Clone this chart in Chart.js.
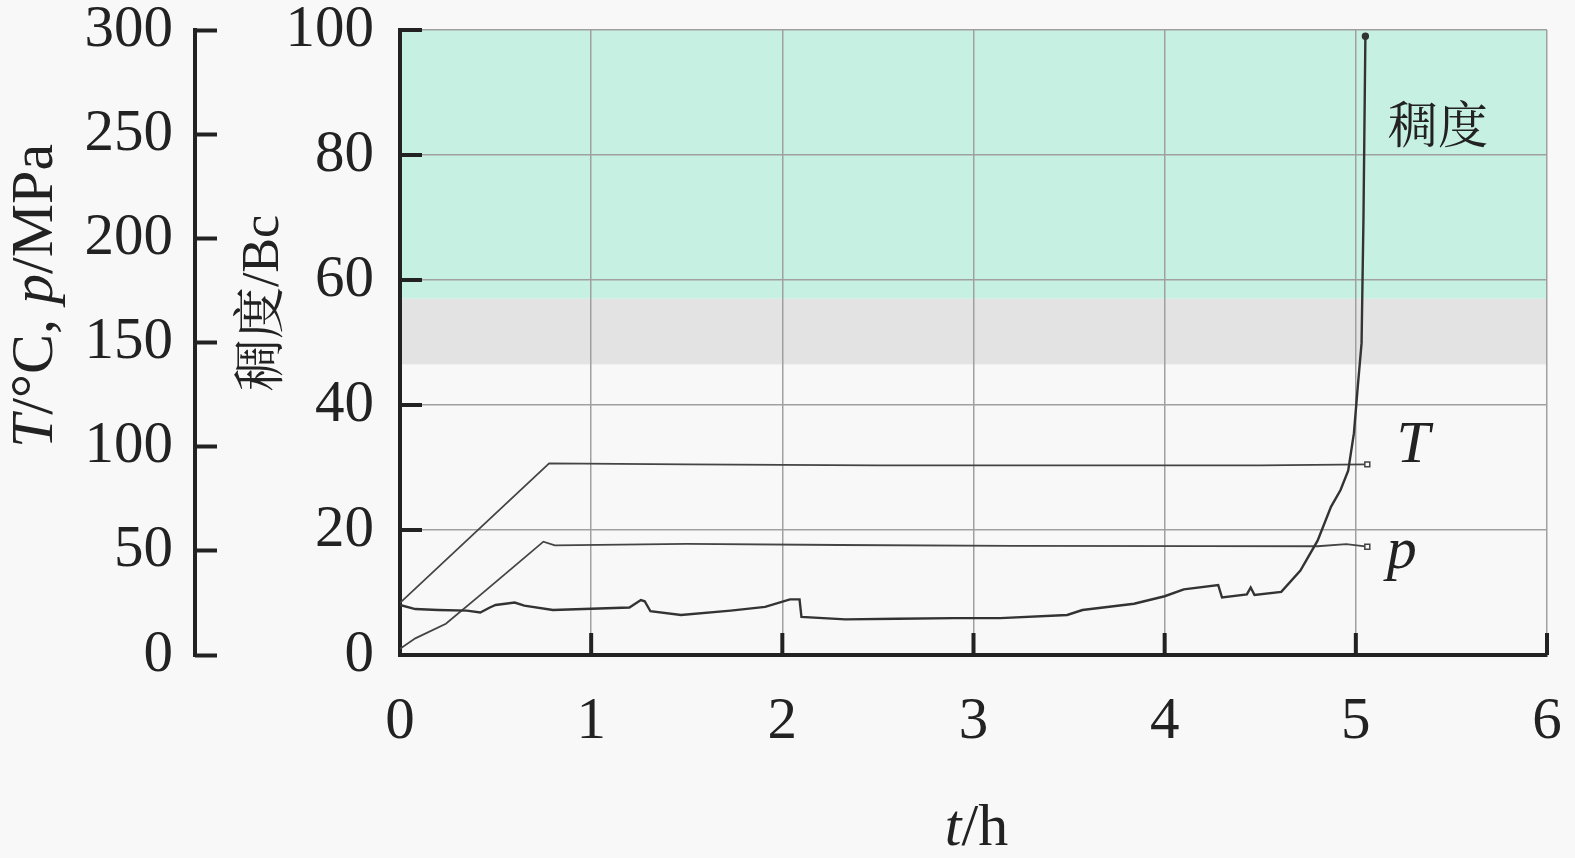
<!DOCTYPE html>
<html>
<head>
<meta charset="utf-8">
<script src="https://cdn.jsdelivr.net/npm/chart.js@4.4.1/dist/chart.umd.min.js"></script>
<style>
  html, body { margin: 0; padding: 0; background: #f8f8f8; }
  canvas { display: block; }
</style>
</head>
<body>
<canvas id="chart" width="1575" height="858"></canvas>
<script>
// consistency (Bc) against time (h)
const consTime = [0, 0.08, 0.2, 0.35, 0.42, 0.47, 0.5, 0.6, 0.65, 0.8, 1.0, 1.2, 1.26, 1.28, 1.31, 1.47, 1.73, 1.91, 2.04, 2.09, 2.1, 2.33, 2.6, 2.9, 3.14, 3.49, 3.57, 3.84, 4.0, 4.1, 4.28, 4.3, 4.43, 4.45, 4.47, 4.61, 4.71, 4.8, 4.87, 4.92, 4.96, 4.99, 5.01, 5.03, 5.04, 5.05];
const consBc = [8, 7.35, 7.2, 7.1, 6.8, 7.6, 8, 8.4, 7.9, 7.2, 7.4, 7.6, 8.8, 8.6, 7.0, 6.4, 7.1, 7.7, 8.9, 8.9, 6.1, 5.7, 5.8, 5.9, 5.9, 6.4, 7.2, 8.2, 9.4, 10.5, 11.2, 9.2, 9.7, 10.8, 9.6, 10.1, 13.5, 18.3, 23.7, 26.4, 29.5, 35.5, 42.9, 49.9, 70, 99];

// temperature T (°C)
const tempTime = [0, 0.78, 1.5, 2.5, 3.5, 4.5, 5.06];
const tempC = [25, 92, 91.5, 91, 91, 91, 91.5];

// pressure p (MPa)
const presTime = [0, 0.08, 0.24, 0.41, 0.585, 0.75, 0.81, 1.5, 2.3, 3.2, 4.2, 4.8, 4.95, 5.06];
const presMPa = [3, 8, 15, 28, 41.6, 54.4, 52.6, 53.3, 52.8, 52.4, 52.3, 52.2, 53.2, 52];

// shaded bands on the consistency axis (Bc)
const bandHigh = [100, 57];
const bandLow = [57, 46.5];

// in-plot labels
const noteText = ['稠度', 'T', 'p'];
const noteTime = [5.43, 5.3, 5.24];
const noteBc = [82, 30.9, 13.9];

const SERIF = '"Liberation Serif", "Noto Serif CJK SC", "Noto Sans CJK SC", serif';
const bandColors = ['#c6f1e2', '#e3e3e3'];
const INK = '#222';

function pts(xs, ys) {
  return xs.map((x, i) => ({ x: x, y: ys[i] }));
}

function lastOnly(r) {
  return (c) => c.dataIndex === c.dataset.data.length - 1 ? r : 0;
}

// draws a row of text pieces, some italic, centred on (0,0)
function drawPieces(ctx, pieces, size) {
  let total = 0;
  pieces.forEach(p => {
    ctx.font = (p[1] ? 'italic ' : '') + size + 'px ' + SERIF;
    total += ctx.measureText(p[0]).width;
  });
  let x = -total / 2;
  pieces.forEach(p => {
    ctx.font = (p[1] ? 'italic ' : '') + size + 'px ' + SERIF;
    ctx.fillText(p[0], x, 0);
    x += ctx.measureText(p[0]).width;
  });
}

const decor = {
  id: 'decor',
  beforeDraw(chart) {
    const { ctx, chartArea: a, scales } = chart;
    ctx.save();
    ctx.fillStyle = '#f8f8f8';
    ctx.fillRect(0, 0, chart.width, chart.height);
    bandHigh.forEach((hi, i) => {
      const y1 = scales.y.getPixelForValue(hi);
      const y2 = scales.y.getPixelForValue(bandLow[i]);
      ctx.fillStyle = bandColors[i];
      ctx.fillRect(a.left, y1, a.right - a.left, y2 - y1);
    });
    ctx.restore();
  },
  afterDraw(chart) {
    const { ctx, chartArea: a, scales } = chart;
    const tp = scales.yTP;
    ctx.save();
    ctx.strokeStyle = INK;
    ctx.fillStyle = INK;
    ctx.lineWidth = 4;

    // T/p axis line sits at the far end of its ticks
    const ax = tp.right - tp.options.grid.tickLength;
    ctx.beginPath();
    ctx.moveTo(ax, tp.getPixelForValue(300) - 2);
    ctx.lineTo(ax, tp.getPixelForValue(0) + 2);
    ctx.stroke();

    // inward ticks on the main axes
    scales.y.ticks.forEach(t => {
      if (t.value % 20 !== 0) return;
      const y = scales.y.getPixelForValue(t.value);
      ctx.beginPath();
      ctx.moveTo(a.left, y);
      ctx.lineTo(a.left + 22, y);
      ctx.stroke();
    });
    scales.x.ticks.forEach(t => {
      if (t.value === 0) return;
      const x = scales.x.getPixelForValue(t.value);
      ctx.beginPath();
      ctx.moveTo(x, a.bottom);
      ctx.lineTo(x, a.bottom - 22);
      ctx.stroke();
    });

    // axis titles
    ctx.textBaseline = 'middle';
    ctx.textAlign = 'left';
    ctx.save();
    ctx.translate(tp.left + 36, a.top + 266);
    ctx.rotate(-Math.PI / 2);
    drawPieces(ctx, [['T', true], ['/°C, ', false], ['p', true], ['/MPa', false]], 60);
    ctx.restore();

    ctx.save();
    ctx.translate(scales.y.left + 47, a.top + 273);
    ctx.rotate(-Math.PI / 2);
    drawPieces(ctx, [['稠度/Bc', false]], 52);
    ctx.restore();

    ctx.save();
    ctx.translate((a.left + a.right) / 2 + 3, a.bottom + 174);
    drawPieces(ctx, [['t', true], ['/h', false]], 60);
    ctx.restore();

    // curve labels
    ctx.textAlign = 'center';
    ctx.textBaseline = 'alphabetic';
    noteText.forEach((s, i) => {
      const cjk = i === 0;
      ctx.font = (cjk ? '' : 'italic ') + (cjk ? 50 : 60) + 'px ' + SERIF;
      ctx.fillText(s, scales.x.getPixelForValue(noteTime[i]), scales.y.getPixelForValue(noteBc[i]));
    });
    ctx.restore();
  }
};

const tickFont = { family: SERIF, size: 59 };

const config = {
  type: 'line',
  data: {
    datasets: [
      {
        label: '稠度',
        data: pts(consTime, consBc),
        yAxisID: 'y',
        borderColor: '#333',
        borderWidth: 2.4,
        pointRadius: lastOnly(2.5),
        pointBackgroundColor: '#333',
        pointBorderColor: '#333',
        tension: 0
      },
      {
        label: 'T',
        data: pts(tempTime, tempC),
        yAxisID: 'yTP',
        borderColor: '#444',
        borderWidth: 1.8,
        pointStyle: 'rect',
        pointRadius: lastOnly(3.5),
        pointBackgroundColor: '#f8f8f8',
        pointBorderColor: '#444',
        pointBorderWidth: 1.5,
        tension: 0
      },
      {
        label: 'p',
        data: pts(presTime, presMPa),
        yAxisID: 'yTP',
        borderColor: '#444',
        borderWidth: 1.8,
        pointStyle: 'rect',
        pointRadius: lastOnly(3.5),
        pointBackgroundColor: '#f8f8f8',
        pointBorderColor: '#444',
        pointBorderWidth: 1.5,
        tension: 0
      }
    ]
  },
  options: {
    responsive: false,
    animation: false,
    devicePixelRatio: 1,
    layout: { padding: { top: 30, right: 28, left: 0, bottom: 0 } },
    plugins: {
      legend: { display: false },
      tooltip: { enabled: false }
    },
    scales: {
      x: {
        type: 'linear',
        min: 0,
        max: 6,
        ticks: { stepSize: 1, font: tickFont, color: INK, padding: 32, maxRotation: 0 },
        grid: { color: '#a0a0a0', lineWidth: 1.5, drawTicks: false },
        border: { color: INK, width: 4 },
        afterFit(s) { s.height = 203; s.paddingLeft = 0; s.paddingRight = 0; }
      },
      y: {
        position: 'left',
        weight: 1,
        min: 0,
        max: 100,
        ticks: {
          stepSize: 10,
          font: tickFont,
          color: INK,
          padding: 26,
          callback: v => (v % 20 === 0 ? v : '')
        },
        grid: { color: '#a0a0a0', lineWidth: 1.5, drawTicks: false },
        border: { color: INK, width: 4 },
        afterFit(s) { s.width = 183; s.paddingTop = 0; s.paddingBottom = 0; }
      },
      yTP: {
        position: 'left',
        weight: 2,
        min: 0,
        max: 300,
        ticks: { stepSize: 50, font: tickFont, color: INK, padding: 22 },
        grid: { drawOnChartArea: false, tickLength: 22, tickWidth: 4, tickColor: INK },
        border: { display: false },
        afterFit(s) { s.width = 217; s.paddingTop = 0; s.paddingBottom = 0; }
      }
    }
  },
  plugins: [decor]
};

new Chart(document.getElementById('chart').getContext('2d'), config);
</script>
</body>
</html>
